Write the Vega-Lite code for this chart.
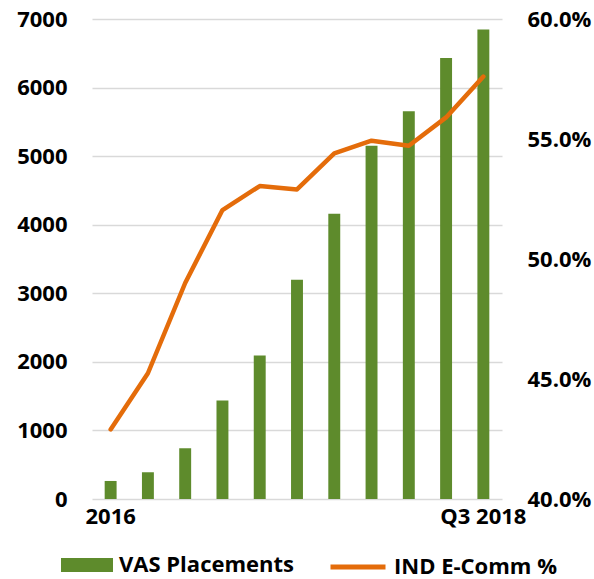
{
  "$schema": "https://vega.github.io/schema/vega-lite/v6.json",
  "autosize": {"type": "none"},
  "padding": {"left": 92, "top": 19, "right": 92, "bottom": 80},
  "width": 410,
  "height": 480,
  "background": "white",
  "config": {
    "view": {"stroke": null},
    "font": "Open Sans",
    "axis": {"labelFont": "Open Sans", "labelFontWeight": "bold", "labelFontSize": 22, "labelColor": "#000000", "titleFontSize": 0},
    "legend": {"labelFont": "Open Sans", "labelFontWeight": "bold", "labelFontSize": 22, "labelColor": "#000000", "labelLimit": 0}
  },
  "data": {
    "values": [
      {"quarter": "Q1 2016", "vas": 263, "ecomm": 0.429},
      {"quarter": "Q2 2016", "vas": 390, "ecomm": 0.4524},
      {"quarter": "Q3 2016", "vas": 740, "ecomm": 0.490},
      {"quarter": "Q4 2016", "vas": 1435, "ecomm": 0.5204},
      {"quarter": "Q1 2017", "vas": 2092, "ecomm": 0.5304},
      {"quarter": "Q2 2017", "vas": 3197, "ecomm": 0.529},
      {"quarter": "Q3 2017", "vas": 4161, "ecomm": 0.544},
      {"quarter": "Q4 2017", "vas": 5153, "ecomm": 0.5493},
      {"quarter": "Q1 2018", "vas": 5654, "ecomm": 0.5472},
      {"quarter": "Q2 2018", "vas": 6433, "ecomm": 0.559},
      {"quarter": "Q3 2018", "vas": 6847, "ecomm": 0.576}
    ]
  },
  "encoding": {
    "x": {
      "field": "quarter",
      "type": "ordinal",
      "sort": null,
      "scale": {"paddingInner": 0.68, "paddingOuter": 0.34},
      "axis": {
        "title": null,
        "domain": false,
        "ticks": false,
        "labelAngle": 0,
        "labelPadding": 7,
        "labelExpr": "datum.value == 'Q1 2016' ? '2016' : (datum.value == 'Q3 2018' ? 'Q3 2018' : '')"
      }
    }
  },
  "layer": [
    {
      "mark": {"type": "bar", "color": "#5E8B2C"},
      "encoding": {
        "y": {
          "field": "vas",
          "type": "quantitative",
          "scale": {"domain": [0, 7000], "nice": false},
          "axis": {
            "title": null,
            "values": [0, 1000, 2000, 3000, 4000, 5000, 6000, 7000],
            "format": "d",
            "domain": false,
            "ticks": false,
            "labelPadding": 25,
            "grid": true,
            "gridColor": "#d9d9d9",
            "gridWidth": 1.5
          }
        },
        "fill": {
          "datum": "VAS Placements",
          "scale": {"range": ["#5E8B2C"]},
          "legend": {
            "title": null,
            "orient": "none",
            "legendX": -31,
            "legendY": 520,
            "symbolType": "M-1,-0.27H1V0.27H-1Z",
            "symbolSize": 2704,
            "symbolStrokeWidth": 0,
            "labelOffset": 6
          }
        }
      }
    },
    {
      "mark": {"type": "line", "strokeWidth": 4.5, "strokeCap": "round", "strokeJoin": "round"},
      "encoding": {
        "y": {
          "field": "ecomm",
          "type": "quantitative",
          "scale": {"domain": [0.4, 0.6], "nice": false, "zero": false},
          "axis": {
            "title": null,
            "orient": "right",
            "values": [0.4, 0.45, 0.5, 0.55, 0.6],
            "format": ".1%",
            "domain": false,
            "ticks": false,
            "grid": false,
            "labelPadding": 25
          }
        },
        "stroke": {
          "datum": "IND E-Comm %",
          "scale": {"range": ["#E46C0A"]},
          "legend": {
            "title": null,
            "orient": "none",
            "legendX": 236,
            "legendY": 518,
            "symbolType": "stroke",
            "symbolSize": 3025,
            "symbolStrokeWidth": 5,
            "labelOffset": 6
          }
        }
      }
    }
  ],
  "resolve": {"scale": {"y": "independent", "fill": "independent", "stroke": "independent"}}
}
